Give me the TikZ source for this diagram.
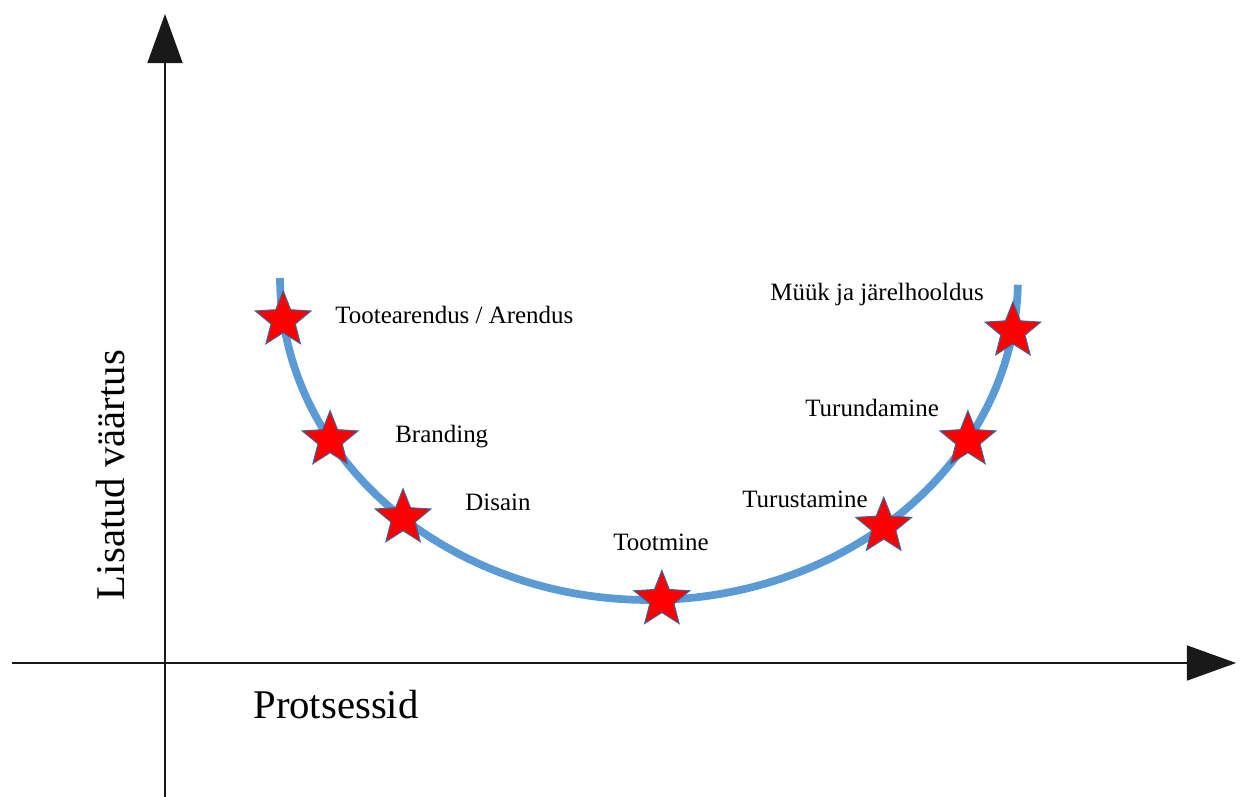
\documentclass[tikz,border=0pt]{standalone}
\usepackage{fontspec}
\setmainfont{Liberation Serif}
\usetikzlibrary{arrows.meta,shapes.geometric}
\definecolor{curveblue}{RGB}{91,155,213}
\definecolor{staredge}{RGB}{65,100,150}
\tikzset{
  axis/.style={line width=0.8pt, draw=black!90, -{Triangle[length=28pt,width=20pt]}},
  valuecurve/.style={line width=4.4pt, draw=curveblue},
  starmark/.style={star, star points=5, star point ratio=2.3, fill=red, draw=staredge,
    line width=0.6pt, minimum size=1.17cm, inner sep=0pt},
  steplabel/.style={anchor=base west, inner sep=0pt, font=\rmfamily\fontsize{14.2pt}{16pt}\selectfont},
  axislabel/.style={inner sep=0pt, font=\rmfamily\fontsize{23.2pt}{26pt}\selectfont}
}
\begin{document}
\begin{tikzpicture}[x=0.02cm, y=-0.02cm]
\useasboundingbox (0,0) rectangle (1240,797);

% axes
\coordinate (ybot) at (165,797);
\coordinate (ytop) at (165,14);
\coordinate (xleft) at (12,663);
\coordinate (xright) at (1236,663);
\draw[axis] (ybot) -- (ytop);
\draw[axis] (xleft) -- (xright);

% value chain curve (lower half of an ellipse)
\coordinate (c) at (649,278);
\draw[valuecurve] plot[domain=1.2:180, samples=120, smooth] ({649+369*cos(\x)},{278+322*sin(\x)});

% stages on the curve
\path (c) ++(172.5:369 and 322) node[starmark] (s1) {};
\path (c) ++(149.8:369 and 322) node[starmark] (s2) {};
\path (c) ++(131.8:369 and 322) node[starmark] (s3) {};
\path (c) ++(88:369 and 322)    node[starmark] (s4) {};
\path (c) ++(50.5:369 and 322)  node[starmark] (s5) {};
\path (c) ++(30.2:369 and 322)  node[starmark] (s6) {};
\path (c) ++(9.5:369 and 322)   node[starmark] (s7) {};

% stage labels
\node[steplabel] (l1) at (335,323) {Tootearendus / Arendus};
\node[steplabel] (l2) at (395,442) {Branding};
\node[steplabel] (l3) at (465,510) {Disain};
\node[steplabel] (l4) at (613,550) {Tootmine};
\node[steplabel] (l5) at (742,507) {Turustamine};
\node[steplabel] (l6) at (805,416) {Turundamine};
\node[steplabel] (l7) at (770,300) {Müük ja järelhooldus};

% axis titles
\node[axislabel, anchor=base, rotate=90] (ylab) at (124,475) {Lisatud väärtus};
\node[axislabel, anchor=base west] (xlab) at (253,718) {Protsessid};
\end{tikzpicture}
\end{document}
